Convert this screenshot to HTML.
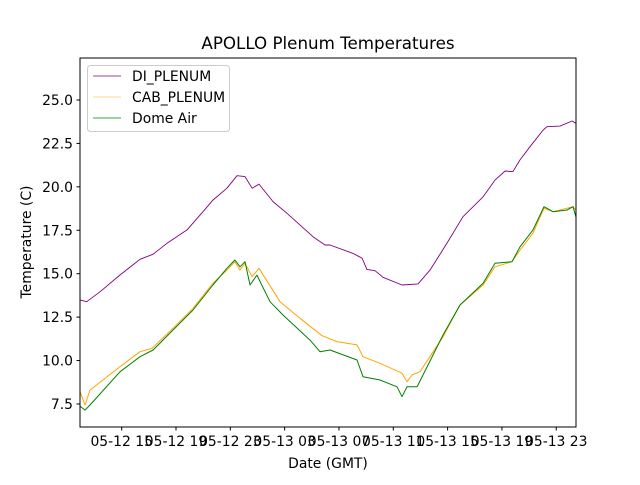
<!DOCTYPE html>
<html><head><meta charset="utf-8"><style>
body{margin:0;background:#fff}
svg text{font-family:"DejaVu Sans","Liberation Sans",sans-serif;fill:#000}
</style></head><body>
<svg id="chart" width="640" height="480" viewBox="0 0 640 480">
<rect x="0" y="0" width="640" height="480" fill="#fff"/>
<text x="328" y="49" font-size="16.7" text-anchor="middle">APOLLO Plenum Temperatures</text>
<g id="plot"></g>
<rect x="80" y="58" width="496" height="369" fill="none" stroke="#000" stroke-width="1"/>
<g id="xticks"></g><g id="yticks"></g>
<text x="328" y="468" font-size="13.9" text-anchor="middle">Date (GMT)</text>
<text transform="translate(31,242) rotate(-90)" font-size="13.9" text-anchor="middle">Temperature (C)</text>
<g>
<rect x="87.5" y="65.5" width="142" height="66" rx="3" fill="#fff" stroke="#ccc"/>
<line x1="93" y1="76" x2="121" y2="76" stroke="purple" stroke-width="0.8"/>
<text x="132" y="81" font-size="13.9">DI_PLENUM</text>
<line x1="93" y1="97" x2="121" y2="97" stroke="orange" stroke-opacity="0.6" stroke-width="0.8"/>
<text x="132" y="102" font-size="13.9">CAB_PLENUM</text>
<line x1="93" y1="118" x2="121" y2="118" stroke="green" stroke-width="0.8"/>
<text x="132" y="123" font-size="13.9">Dome Air</text>
</g>
</svg>
<script>
const diT=[11.93,12.42,13.40,14.88,16.35,17.31,18.34,19.81,20.99,21.72,22.75,23.49,24.08,24.60,25.11,26.14,27.17,29.09,29.97,30.34,32.03,32.70,33.06,33.65,34.24,35.64,36.82,37.70,38.95,40.13,41.61,42.49,43.23,43.81,44.33,45.07,46.03,46.32,47.28,48.16,48.45];
const diV=[13.49,13.39,13.96,14.93,15.83,16.12,16.75,17.52,18.57,19.24,19.92,20.64,20.59,19.92,20.16,19.15,18.48,17.13,16.65,16.65,16.17,15.89,15.25,15.17,14.79,14.35,14.41,15.21,16.75,18.28,19.43,20.39,20.91,20.87,21.55,22.31,23.27,23.46,23.50,23.79,23.66];
const cabT=[11.93,12.30,12.67,14.88,16.35,17.23,18.78,20.25,21.72,22.75,23.34,23.71,24.08,24.60,25.11,26.66,28.13,29.75,30.85,32.33,32.77,34.02,35.64,36.01,36.38,36.97,38.66,39.91,41.61,42.49,43.74,44.33,45.29,46.10,46.76,48.23,48.45];
const cabV=[8.21,7.44,8.30,9.65,10.51,10.70,11.86,13.01,14.45,15.21,15.69,15.21,15.60,14.83,15.31,13.39,12.43,11.43,11.09,10.90,10.22,9.84,9.27,8.78,9.17,9.36,11.37,13.20,14.35,15.40,15.69,16.36,17.33,18.77,18.57,18.86,18.67];
const domeT=[11.93,12.30,12.67,14.88,16.35,17.31,18.78,20.25,21.72,22.75,23.34,23.71,24.08,24.45,24.96,25.92,26.88,28.87,29.60,30.34,32.33,32.77,34.02,35.27,35.64,36.01,36.75,38.66,39.91,41.61,42.49,43.74,44.33,45.29,46.10,46.76,47.79,48.23,48.45];
const domeV=[7.38,7.15,7.44,9.36,10.22,10.61,11.76,12.91,14.35,15.31,15.79,15.40,15.69,14.35,14.92,13.39,12.62,11.18,10.51,10.61,10.03,9.07,8.88,8.49,7.92,8.49,8.49,11.47,13.20,14.45,15.60,15.69,16.55,17.52,18.86,18.57,18.67,18.86,18.28];
const xTickHours=[15,19,23,27,31,35,39,43,47];
const xTickLabels=["05-12 15","05-12 19","05-12 23","05-13 03","05-13 07","05-13 11","05-13 15","05-13 19","05-13 23"];
const yTicks=[7.5,10.0,12.5,15.0,17.5,20.0,22.5,25.0];

const NS="http://www.w3.org/2000/svg";
const X=t=>80+(t-11.93)*13.58;
const Y=v=>100+(25-v)*17.37;
const plot=document.getElementById('plot');
function series(T,V,color,name,w){
  const p=document.createElementNS(NS,'polyline');
  p.setAttribute('points',T.map((t,i)=>X(t).toFixed(1)+','+Y(V[i]).toFixed(1)).join(' '));
  p.setAttribute('fill','none');p.setAttribute('stroke',color);p.setAttribute('stroke-width',w);
  p.setAttribute('stroke-linejoin','round');
  
  
  plot.appendChild(p);
}
series(diT,diV,'purple','di-plenum-line',0.9);
series(cabT,cabV,'orange','cab-plenum-line',1.0);
series(domeT,domeV,'green','dome-air-line',1.0);
const xg=document.getElementById('xticks');
xTickHours.forEach((h,i)=>{
  const x=X(h);
  const l=document.createElementNS(NS,'line');
  l.setAttribute('x1',x);l.setAttribute('x2',x);l.setAttribute('y1',427);l.setAttribute('y2',430.5);l.setAttribute('stroke','#000');
  
  
  xg.appendChild(l);
  const t=document.createElementNS(NS,'text');
  t.setAttribute('x',x);t.setAttribute('y',446);t.setAttribute('font-size','13.9');t.setAttribute('text-anchor','middle');
  t.textContent=xTickLabels[i];
  
  
  xg.appendChild(t);
});
const yg=document.getElementById('yticks');
yTicks.forEach(v=>{
  const y=Y(v);
  const l=document.createElementNS(NS,'line');
  l.setAttribute('x1',76.5);l.setAttribute('x2',80);l.setAttribute('y1',y);l.setAttribute('y2',y);l.setAttribute('stroke','#000');
  
  
  yg.appendChild(l);
  const t=document.createElementNS(NS,'text');
  t.setAttribute('x',73);t.setAttribute('y',y+5);t.setAttribute('font-size','13.9');t.setAttribute('text-anchor','end');
  t.textContent=v.toFixed(1);
  
  
  yg.appendChild(t);
});
</script>
</body></html>
